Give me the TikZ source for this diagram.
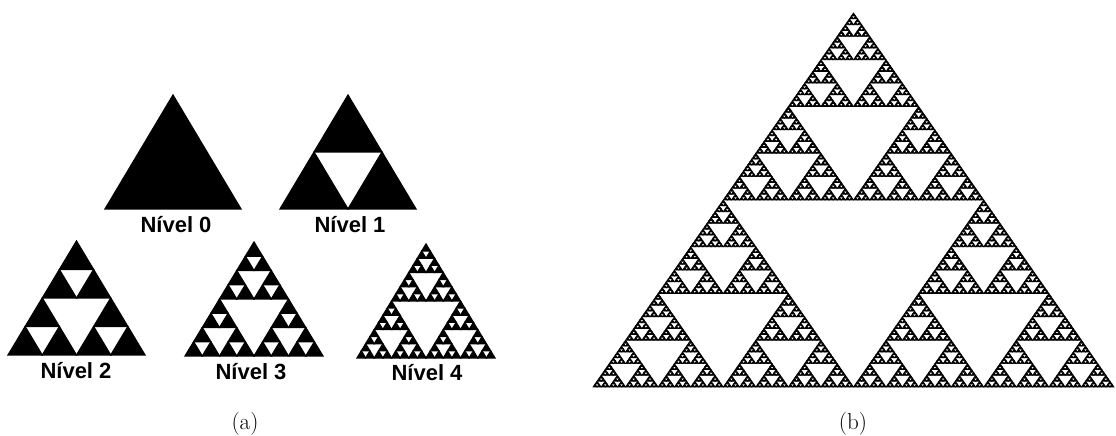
\documentclass[tikz,border=0pt]{standalone}
\usepackage{fontspec}
\newfontfamily\labfont{Liberation Sans}
\newcommand\sierp[5]{%
  \ifnum#1=0
    \filldraw[tri] (#2,#3) -- ++(#4,0) -- ++({-#4/2},#5) -- cycle;
  \else
    \begingroup
    \pgfmathsetmacro\hw{#4/2}%
    \pgfmathsetmacro\hh{#5/2}%
    \pgfmathsetmacro\xm{#2+\hw}%
    \pgfmathsetmacro\xq{#2+\hw/2}%
    \pgfmathsetmacro\ym{#3+\hh}%
    \pgfmathtruncatemacro\dd{#1-1}%
    \edef\sierpnext{\noexpand\sierp{\dd}{#2}{#3}{\hw}{\hh}\noexpand\sierp{\dd}{\xm}{#3}{\hw}{\hh}\noexpand\sierp{\dd}{\xq}{\ym}{\hw}{\hh}}%
    \sierpnext
    \endgroup
  \fi}
\tikzset{
  tri/.style={fill=black, draw=black, line width=1.2pt, line join=miter},
  lab/.style={font=\labfont\bfseries\fontsize{22}{26}\selectfont, inner sep=0pt},
  captext/.style={font=\fontsize{23}{27}\selectfont, inner sep=0pt}
}
\begin{document}
\begin{tikzpicture}[x=1pt,y=1pt]
\useasboundingbox (0,0) rectangle (1116,436);
% (a)
\sierp{0}{105}{227}{136}{114}
\sierp{1}{280}{227}{136}{114}
\sierp{2}{8}{81}{137}{114}
\sierp{3}{185}{80}{138}{114}
\sierp{4}{357}{78}{138}{114}
\node[lab] (l0) at (176,211) {Nível 0};
\node[lab] (l1) at (350,211) {Nível 1};
\node[lab] (l2) at (76,65) {Nível 2};
\node[lab] (l3) at (251,64) {Nível 3};
\node[lab] (l4) at (427,63) {Nível 4};
% (b)
\begin{scope}[tri/.append style={line width=0.7pt}]
\sierp{7}{593}{49}{521}{374}
\end{scope}
\node[captext] (ca) at (245,12) {(a)};
\node[captext] (cb) at (853,12) {(b)};
\end{tikzpicture}
\end{document}
